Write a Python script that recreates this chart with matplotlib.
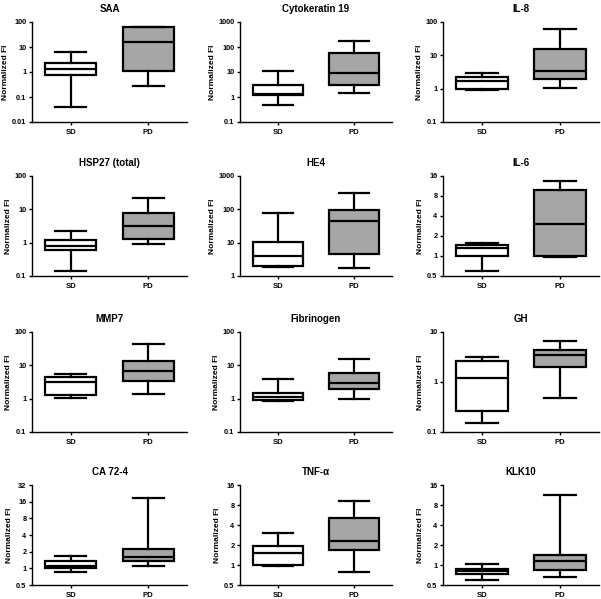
import numpy as np
import matplotlib
matplotlib.use("Agg")
import matplotlib.pyplot as plt
from matplotlib.ticker import FixedLocator, FixedFormatter, NullLocator

plt.rcParams['font.family'] = ['Liberation Sans', 'DejaVu Sans']
plt.rcParams['font.weight'] = 'bold'

markers = ["SAA", "Cytokeratin 19", "IL-8",
           "HSP27 (total)", "HE4", "IL-6",
           "MMP7", "Fibrinogen", "GH",
           "CA 72-4", "TNF-\u03b1", "KLK10"]
groups = ["SD", "PD"]

# [whisker low, q1, median, q3, whisker high]
sd_stats = [
    [0.04, 0.74, 1.35, 2.3, 6.3],
    [0.5, 1.15, 1.38, 3.0, 11],
    [0.9, 1.0, 1.74, 2.3, 2.9],
    [0.14, 0.6, 0.79, 1.24, 2.3],
    [1.8, 1.95, 3.9, 10.8, 76],
    [0.6, 1.0, 1.34, 1.47, 1.55],
    [1.05, 1.3, 3.2, 4.4, 5.4],
    [0.83, 0.89, 1.12, 1.47, 4.0],
    [0.15, 0.26, 1.18, 2.6, 3.2],
    [0.86, 1.0, 1.1, 1.38, 1.65],
    [0.95, 1.01, 1.5, 1.94, 3.0],
    [0.6, 0.72, 0.81, 0.87, 1.03],
]
pd_stats = [
    [0.27, 1.1, 16, 63, 65],
    [1.5, 3.1, 9.4, 59, 166],
    [1.07, 1.9, 3.5, 16, 62],
    [0.94, 1.3, 3.1, 7.7, 22],
    [1.75, 4.6, 44, 93, 300],
    [0.95, 1.0, 3.0, 9.9, 13.6],
    [1.38, 3.5, 6.9, 13.8, 44],
    [1.0, 1.9, 3.0, 5.9, 16],
    [0.47, 2.0, 3.4, 4.3, 6.6],
    [1.12, 1.34, 1.6, 2.27, 18.4],
    [0.78, 1.67, 2.28, 5.1, 9.2],
    [0.67, 0.84, 1.14, 1.41, 11.5],
]
y_ticks = [
    [0.01, 0.1, 1, 10, 100],
    [0.1, 1, 10, 100, 1000],
    [0.1, 1, 10, 100],
    [0.1, 1, 10, 100],
    [1, 10, 100, 1000],
    [0.5, 1, 2, 4, 8, 16],
    [0.1, 1, 10, 100],
    [0.1, 1, 10, 100],
    [0.1, 1, 10],
    [0.5, 1, 2, 4, 8, 16, 32],
    [0.5, 1, 2, 4, 8, 16],
    [0.5, 1, 2, 4, 8, 16],
]
y_labels = [[("%g" % v) for v in t] for t in y_ticks]

W, H = 601, 599
fig = plt.figure(figsize=(W / 100, H / 100), dpi=100)

col_left = [32, 240, 443]
col_width = [155, 152, 156]
row_top = [22, 176, 332, 485]
row_h = 100

for i, name in enumerate(markers):
    r, c = divmod(i, 3)
    ax = fig.add_axes([col_left[c] / W, 1 - (row_top[r] + row_h) / H,
                       col_width[c] / W, row_h / H])
    stats = []
    for g, s in zip(groups, [sd_stats[i], pd_stats[i]]):
        stats.append(dict(label=g, whislo=s[0], q1=s[1], med=s[2], q3=s[3],
                          whishi=s[4], fliers=[]))
    bp = ax.bxp(stats, positions=[1, 2], widths=0.66, capwidths=0.4,
                patch_artist=True, showfliers=False,
                boxprops=dict(linewidth=1.6, edgecolor='black'),
                medianprops=dict(color='black', linewidth=1.6),
                whiskerprops=dict(color='black', linewidth=1.6),
                capprops=dict(color='black', linewidth=1.6))
    bp['boxes'][0].set_facecolor('white')
    bp['boxes'][1].set_facecolor('#a6a6a6')
    ticks = y_ticks[i]
    ax.set_yscale('log', base=2 if ticks[0] == 0.5 else 10)
    ax.set_ylim(ticks[0], ticks[-1])
    ax.yaxis.set_major_locator(FixedLocator(ticks))
    ax.yaxis.set_major_formatter(FixedFormatter(y_labels[i]))
    ax.yaxis.set_minor_locator(NullLocator())
    ax.set_xlim(0.5, 2.5)
    ax.spines['top'].set_visible(False)
    ax.spines['right'].set_visible(False)
    for sp in ['left', 'bottom']:
        ax.spines[sp].set_linewidth(1.0)
    ax.tick_params(axis='y', labelsize=5.3, length=2.5, width=1.0, pad=1.5)
    ax.tick_params(axis='x', labelsize=5.6, length=2.5, width=1.0, pad=2.5)
    ax.set_ylabel("Normalized FI", fontsize=6, fontweight='bold', labelpad=2)
    ax.set_title(name, fontsize=7, fontweight='bold', pad=7)

fig.savefig("out.png", dpi=100)
